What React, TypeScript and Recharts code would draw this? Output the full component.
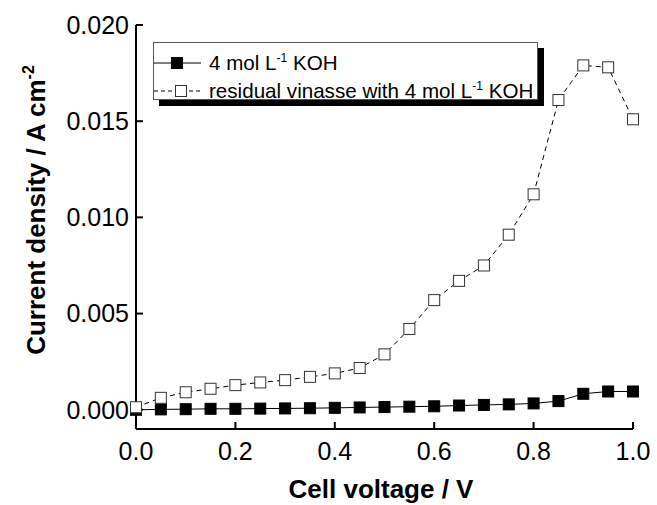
import { LineChart, Line, XAxis, YAxis } from 'recharts';

const voltages = [0, 0.05, 0.1, 0.15, 0.2, 0.25, 0.3, 0.35, 0.4, 0.45, 0.5, 0.55, 0.6, 0.65, 0.7, 0.75, 0.8, 0.85, 0.9, 0.95, 1.0];
const kohOnly = [0.0, 0.00002, 0.00003, 0.00005, 0.00005, 0.00006, 0.00007, 0.00008, 0.0001, 0.00012, 0.00014, 0.00016, 0.00018, 0.00022, 0.00025, 0.00028, 0.00033, 0.00045, 0.00083, 0.00095, 0.00095];
const vinasseKoh = [0.00013, 0.00062, 0.00091, 0.00109, 0.00128, 0.00142, 0.00154, 0.00171, 0.00189, 0.00217, 0.00288, 0.0042, 0.0057, 0.0067, 0.0075, 0.0091, 0.0112, 0.0161, 0.0179, 0.0178, 0.0151];
const xTicks = [0, 0.2, 0.4, 0.6, 0.8, 1.0];
const yTicks = [0, 0.005, 0.01, 0.015, 0.02];

const data = voltages.map((v, i) => ({ v, koh: kohOnly[i], vinasse: vinasseKoh[i] }));

const FONT = '"Liberation Sans", Arial, sans-serif';

const Square = (props: any) => {
  const { cx, cy, fill, stroke } = props;
  if (cx == null || cy == null) return null;
  return <rect x={cx - 5.5} y={cy - 5.5} width={11} height={11} fill={fill} stroke={stroke} strokeWidth={1} />;
};

const YTitle = () => (
  <text
    x={45}
    y={210}
    transform="rotate(-90, 45, 210)"
    textAnchor="middle"
    fontFamily={FONT}
    fontWeight="bold"
    fontSize={26}
    fill="#000"
  >
    Current density / A cm<tspan dy={-11} fontSize={16}>-2</tspan>
  </text>
);

const XTitle = () => (
  <text x={381} y={498} textAnchor="middle" fontFamily={FONT} fontWeight="bold" fontSize={26} fill="#000">
    Cell voltage / V
  </text>
);

// legend drawn as an overlay so it does not take space from the plot
const LegendBox = () => (
  <div
    style={{
      position: 'absolute',
      left: 153,
      top: 42,
      width: 383,
      height: 56,
      border: '1px solid #555',
      background: '#fff',
      boxShadow: '6px 6px 0 #000',
      fontFamily: FONT,
      fontSize: 20.6,
      color: '#000',
    }}
  >
    <div style={{ position: 'absolute', left: 0, top: 8, height: 24, display: 'flex', alignItems: 'center' }}>
      <svg width={50} height={24}>
        <line x1={0} y1={12} x2={47} y2={12} stroke="#000" strokeWidth={1} />
        <rect x={17.5} y={6.5} width={11} height={11} fill="#000" stroke="#000" />
      </svg>
      <span style={{ marginLeft: 5, whiteSpace: 'nowrap' }}>
        4 mol L<span style={{ fontSize: 12, position: 'relative', top: -8 }}>-1</span> KOH
      </span>
    </div>
    <div style={{ position: 'absolute', left: 0, top: 36, height: 24, display: 'flex', alignItems: 'center' }}>
      <svg width={50} height={24}>
        <line x1={0} y1={12} x2={47} y2={12} stroke="#000" strokeWidth={1} strokeDasharray="4 3" />
        <rect x={21.5} y={6.5} width={11} height={11} fill="#fff" stroke="#333" />
      </svg>
      <span style={{ marginLeft: 5, whiteSpace: 'nowrap' }}>
        residual vinasse with 4 mol L<span style={{ fontSize: 12, position: 'relative', top: -8 }}>-1</span> KOH
      </span>
    </div>
  </div>
);

const tickStyle = { fill: '#000', fontSize: 25, fontFamily: FONT };
const axisLine = { stroke: '#000', strokeWidth: 2 };

export default function App() {
  return (
    <div style={{ position: 'absolute', left: 0, top: 0, width: 657, height: 505, background: '#fff' }}>
      <LineChart width={657} height={505} data={data} margin={{ top: 25, right: 24, bottom: 0, left: 0 }}>
        <XAxis
          dataKey="v"
          type="number"
          domain={[0, 1]}
          ticks={xTicks}
          height={76}
          tickFormatter={(t: number) => t.toFixed(1)}
          tick={tickStyle}
          tickSize={-7}
          tickMargin={20}
          axisLine={axisLine}
          tickLine={axisLine}
          label={<XTitle />}
        />
        <XAxis
          xAxisId="top"
          orientation="top"
          dataKey="v"
          type="number"
          domain={[0, 1]}
          ticks={xTicks}
          height={0}
          tick={false}
          tickSize={-7}
          axisLine={axisLine}
          tickLine={axisLine}
        />
        <YAxis
          type="number"
          domain={[-0.001, 0.02]}
          ticks={yTicks}
          width={136}
          tickFormatter={(t: number) => t.toFixed(3)}
          tick={tickStyle}
          tickSize={-7}
          tickMargin={14}
          axisLine={axisLine}
          tickLine={axisLine}
          label={<YTitle />}
        />
        <YAxis
          yAxisId="right"
          orientation="right"
          type="number"
          domain={[-0.001, 0.02]}
          ticks={yTicks}
          width={0}
          tick={false}
          tickSize={-7}
          axisLine={axisLine}
          tickLine={axisLine}
        />
        <Line
          dataKey="koh"
          name="4 mol L-1 KOH"
          stroke="#000"
          strokeWidth={1}
          dot={<Square fill="#000" stroke="#000" />}
          isAnimationActive={false}
        />
        <Line
          dataKey="vinasse"
          name="residual vinasse with 4 mol L-1 KOH"
          stroke="#000"
          strokeWidth={1}
          strokeDasharray="5 4"
          dot={<Square fill="#fff" stroke="#333" />}
          isAnimationActive={false}
        />
      </LineChart>
      <LegendBox />
    </div>
  );
}
